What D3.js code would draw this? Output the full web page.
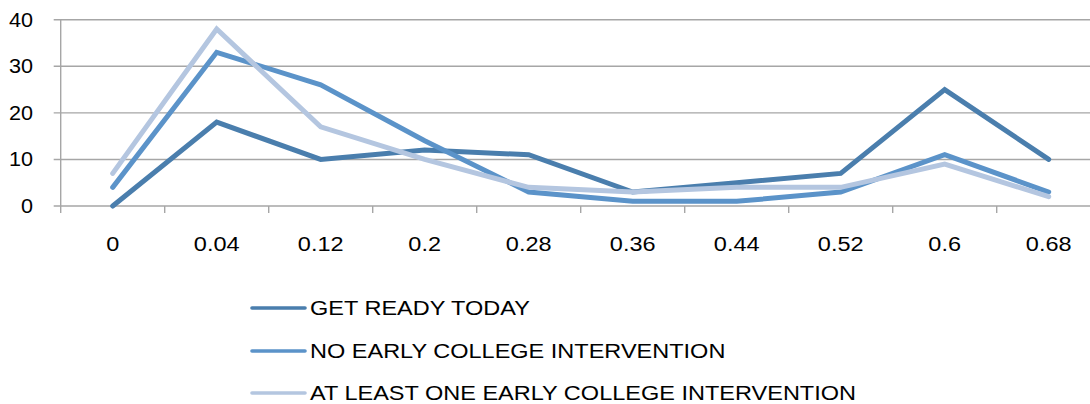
<!DOCTYPE html>
<html>
<head>
<meta charset="utf-8">
<script src="https://cdn.jsdelivr.net/npm/d3@7"></script>
<style>
  html, body { margin: 0; padding: 0; background: #fff; }
  svg { display: block; }
  text { font-family: "Liberation Sans", Arial, sans-serif; fill: #000; }
</style>
</head>
<body>
<svg id="chart" width="1090" height="404"></svg>
<script>
// Category labels along the x axis
const categories = ["0", "0.04", "0.12", "0.2", "0.28", "0.36", "0.44", "0.52", "0.6", "0.68"];

// Series values, one per category
const getReadyToday = [0, 18, 10, 12, 11, 3, 5, 7, 25, 10];
const noEarlyCollege = [4, 33, 26, 14, 3, 1, 1, 3, 11, 3];
const atLeastOneEarlyCollege = [7, 38, 17, 10, 4, 3, 4, 4, 9, 2];

const seriesNames = ["GET READY TODAY", "NO EARLY COLLEGE INTERVENTION", "AT LEAST ONE EARLY COLLEGE INTERVENTION"];
const yTicks = [0, 10, 20, 30, 40];

const series = [
  { name: seriesNames[0], values: getReadyToday, color: "#4a7ead" },
  { name: seriesNames[1], values: noEarlyCollege, color: "#5b93c9" },
  { name: seriesNames[2], values: atLeastOneEarlyCollege, color: "#b4c6e0" }
];

const svg = d3.select("#chart");
const gridColor = "#a6a6a6";
const textStretch = 1.12;

const plotLeft = 60.7, plotRight = 1100.7, plotTop = 19.7, plotBottom = 206;

const x = d3.scaleBand().domain(categories).range([plotLeft, plotRight]);
const y = d3.scaleLinear().domain([0, 40]).range([plotBottom, plotTop]);
const cx = c => x(c) + x.bandwidth() / 2;

// Horizontal gridlines with short ticks left of the axis
svg.append("g").selectAll("line").data(yTicks).join("line")
  .attr("x1", plotLeft - 7).attr("x2", plotRight)
  .attr("y1", d => y(d)).attr("y2", d => y(d))
  .attr("stroke", gridColor).attr("stroke-width", 1.4);

// Vertical axis line
svg.append("line")
  .attr("x1", plotLeft).attr("x2", plotLeft)
  .attr("y1", plotTop).attr("y2", plotBottom)
  .attr("stroke", gridColor).attr("stroke-width", 1.4);

// Category tick marks at band boundaries
const boundaries = categories.map(c => x(c)).concat([plotRight]);
svg.append("g").selectAll("line").data(boundaries).join("line")
  .attr("x1", d => d).attr("x2", d => d)
  .attr("y1", plotBottom).attr("y2", plotBottom + 7)
  .attr("stroke", gridColor).attr("stroke-width", 1.4);

// Y tick labels
svg.append("g").selectAll("text").data(yTicks).join("text")
  .attr("text-anchor", "end")
  .attr("dominant-baseline", "central")
  .attr("font-size", 21)
  .attr("transform", d => `translate(33,${y(d)}) scale(1.03,1)`)
  .text(d => d);

// X category labels
svg.append("g").selectAll("text").data(categories).join("text")
  .attr("text-anchor", "middle")
  .attr("dominant-baseline", "central")
  .attr("font-size", 21)
  .attr("transform", d => `translate(${cx(d)},244) scale(${textStretch},1)`)
  .text(d => d);

// Series lines
const line = d3.line()
  .x((d, i) => cx(categories[i]))
  .y(d => y(d));

svg.append("g").selectAll("path").data(series).join("path")
  .attr("d", s => line(s.values))
  .attr("fill", "none")
  .attr("stroke", s => s.color)
  .attr("stroke-width", 5)
  .attr("stroke-linecap", "round")
  .attr("stroke-linejoin", "miter");

// Legend
const legendRows = [308, 351, 393];
const legend = svg.append("g").selectAll("g").data(series).join("g")
  .attr("transform", (s, i) => `translate(0,${legendRows[i]})`);

legend.append("line")
  .attr("x1", 252).attr("x2", 305)
  .attr("y1", 0).attr("y2", 0)
  .attr("stroke", s => s.color)
  .attr("stroke-width", 3.6)
  .attr("stroke-linecap", "round");

legend.append("text")
  .attr("dominant-baseline", "central")
  .attr("font-size", 21)
  .attr("transform", `translate(310,0) scale(${textStretch},1)`)
  .text(s => s.name);
</script>
</body>
</html>
